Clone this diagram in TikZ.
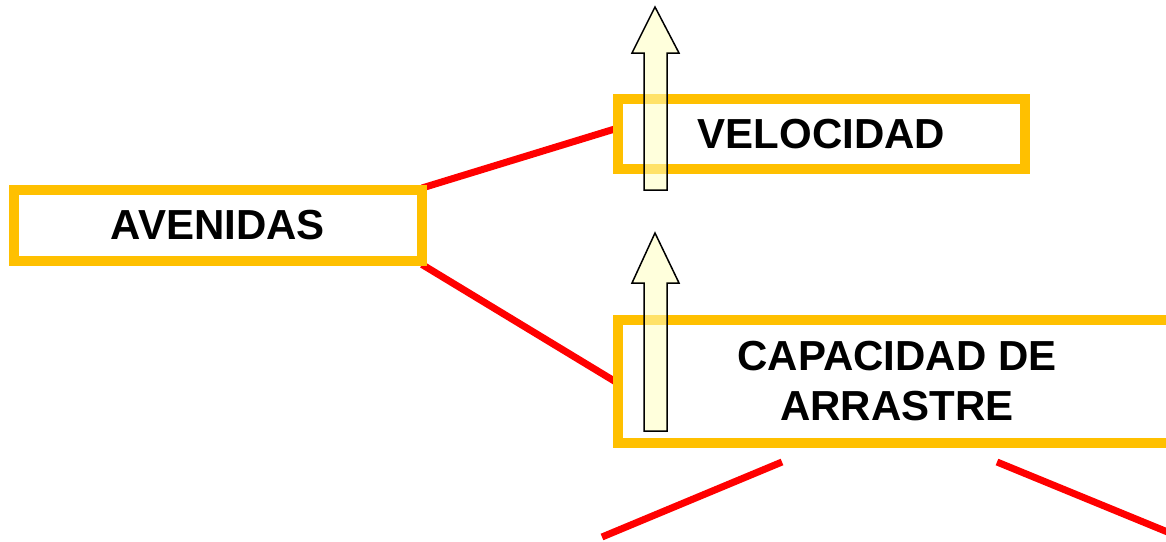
\documentclass[tikz,border=0pt]{standalone}
\usepackage{fontspec}
\setmainfont{Liberation Sans}
\definecolor{boxgold}{HTML}{FFC000}
\definecolor{linkred}{HTML}{FF0000}
\definecolor{arrowfill}{HTML}{FFFFC0}
\begin{document}
\begin{tikzpicture}[x=1pt,y=-1pt,
  goldbox/.style={draw=boxgold, line width=10pt, fill=white, outer sep=0pt, inner sep=0pt,
    font=\fontsize{42}{50}\selectfont\bfseries, align=center, text=black},
  link/.style={draw=linkred, line width=7pt},
  uparrow/.style={draw=black, line width=1.5pt, fill=arrowfill, fill opacity=0.55, line join=miter}]
\useasboundingbox (0,0) rectangle (1166,541);
\clip (0,0) rectangle (1166,541);
% boxes
\node[goldbox, minimum width=408.5pt, minimum height=70.5pt] (av) at (217.75,225.25) {AVENIDAS};
\node[goldbox, minimum width=407pt, minimum height=70pt] (vel) at (821.5,134) {VELOCIDAD};
\node[goldbox, minimum width=558pt, minimum height=122.5pt] (cap) at (897,381.25) {CAPACIDAD DE\\ARRASTRE};
% connectors (behind boxes)
\begin{scope}[on background layer/.try]
\end{scope}
\coordinate (bl) at (602,537);
\coordinate (bltop) at (782,462);
\coordinate (brtop) at (997,462);
\coordinate (br) at (1170,533);
\draw[link] ([yshift=2pt]av.north east) -- ([yshift=6pt]vel.west);
\draw[link] ([yshift=-4pt]av.south east) -- ([yshift=-2pt]cap.west);
\draw[link] (bltop) -- (bl);
\draw[link] (brtop) -- (br);
% redraw box borders over line ends
\draw[boxgold, line width=10pt] (av.south west) rectangle (av.north east);
\draw[boxgold, line width=10pt] (vel.south west) rectangle (vel.north east);
\draw[boxgold, line width=10pt] (cap.south west) rectangle (cap.north east);
% arrows
\draw[uparrow] (644,190) -- (644,53) -- (632,53) -- (655,7) -- (679,53) -- (667,53) -- (667,190) -- cycle;
\draw[uparrow] (644,431) -- (644,283) -- (632,283) -- (655,233) -- (679,283) -- (667,283) -- (667,431) -- cycle;
\end{tikzpicture}
\end{document}
